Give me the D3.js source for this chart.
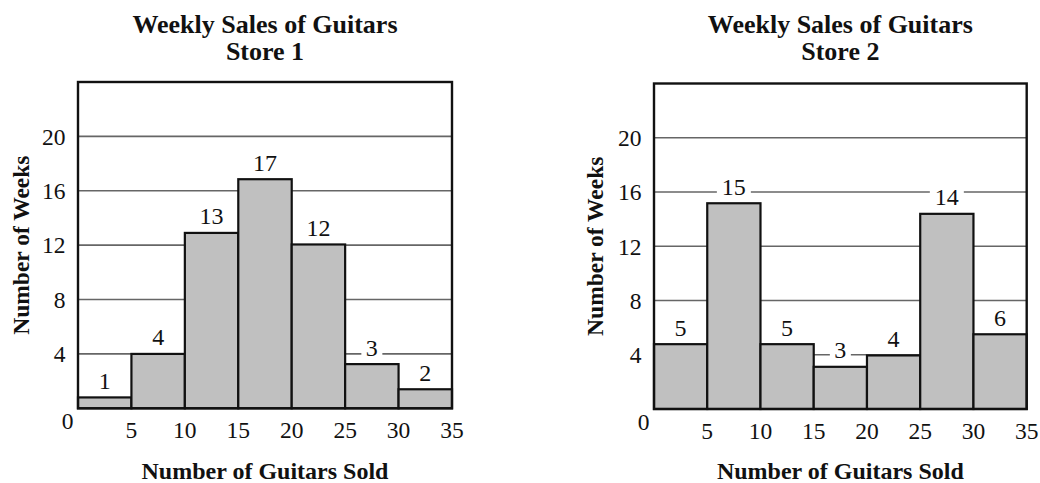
<!DOCTYPE html>
<html><head><meta charset="utf-8">
<script src="https://cdn.jsdelivr.net/npm/d3@7"></script>
<style>body{margin:0;background:#fff}svg{display:block}</style>
</head><body>
<svg id="c" width="1040" height="483" font-family="'Liberation Serif', 'Times New Roman', Times, serif"></svg>
<script>
const binEdges = [0,5,10,15,20,25,30,35];
const xTickLabels = ["5","10","15","20","25","30","35"];
const yTickValues = [4,8,12,16,20];
const store1Counts = [1,4,13,17,12,3,2];
const store1Heights = [0.8,4.0,12.9,16.85,12.05,3.25,1.4];
const store2Counts = [5,15,5,3,4,14,6];
const store2Heights = [4.78,15.17,4.78,3.11,3.95,14.39,5.51];
const titles = [["Weekly Sales of Guitars","Store 1"],["Weekly Sales of Guitars","Store 2"]];
const xTitle = "Number of Guitars Sold";
const yTitle = "Number of Weeks";

const svg = d3.select("#c");
const FONT = "'Liberation Serif', 'Times New Roman', Times, serif";
const panels = [
  {L:78, R:452, B:408.3, T:82, counts:store1Counts, heights:store1Heights, title:titles[0], yT:29},
  {L:654, R:1026.7, B:409, T:83.5, counts:store2Counts, heights:store2Heights, title:titles[1], yT:603}
];
panels.forEach(p=>{
  const g = svg.append("g").attr("font-family",FONT).attr("fill","#111");
  const x = d3.scaleLinear().domain([0,35]).range([p.L,p.R]);
  const y = d3.scaleLinear().domain([0,24]).range([p.B,p.T]);
  g.selectAll("line.grid").data(yTickValues).join("line")
    .attr("x1",p.L).attr("x2",p.R).attr("y1",d=>y(d)).attr("y2",d=>y(d))
    .attr("stroke","#666").attr("stroke-width",1.6);
  const bins = p.counts.map((c,i)=>({c, h:p.heights[i], x0:binEdges[i], x1:binEdges[i+1]}));
  const lab = g.selectAll("g.lab").data(bins).join("g");
  lab.append("rect")
    .attr("x",d=>(x(d.x0)+x(d.x1))/2 - (String(d.c).length*6.5+4))
    .attr("width",d=>String(d.c).length*13+8)
    .attr("y",d=>y(d.h)-26).attr("height",20).attr("fill","#fff");
  lab.append("text").attr("x",d=>(x(d.x0)+x(d.x1))/2).attr("y",d=>y(d.h)-8.5)
    .attr("text-anchor","middle").attr("font-size",24).text(d=>d.c);
  g.selectAll("rect.bar").data(bins).join("rect").attr("class","bar")
    .attr("x",d=>x(d.x0)).attr("width",d=>x(d.x1)-x(d.x0))
    .attr("y",d=>y(d.h)).attr("height",d=>y(0)-y(d.h))
    .attr("fill","#c0c0c0").attr("stroke","#111").attr("stroke-width",2.2);
  g.append("rect").attr("x",p.L).attr("y",p.T).attr("width",p.R-p.L).attr("height",p.B-p.T)
    .attr("fill","none").attr("stroke","#111").attr("stroke-width",2.4);
  g.selectAll("text.yt").data(yTickValues).join("text")
    .attr("x",p.L-12.5).attr("y",d=>y(d)+8.3).attr("text-anchor","end").attr("font-size",23.5).text(d=>d);
  g.append("text").attr("x",p.L-10.5).attr("y",p.B+21).attr("text-anchor","middle").attr("font-size",23.5).text("0");
  g.selectAll("text.xt").data(xTickLabels).join("text")
    .attr("x",d=>x(+d)).attr("y",p.B+30).attr("text-anchor","middle").attr("font-size",23.5).text(d=>d);
  const cx = (p.L+p.R)/2;
  g.append("text").attr("x",cx).attr("y",32.7).attr("text-anchor","middle").attr("font-size",26).attr("font-weight","bold").text(p.title[0]);
  g.append("text").attr("x",cx).attr("y",60).attr("text-anchor","middle").attr("font-size",26).attr("font-weight","bold").text(p.title[1]);
  g.append("text").attr("x",cx).attr("y",479).attr("text-anchor","middle").attr("font-size",24).attr("font-weight","bold").text(xTitle);
  g.append("text").attr("transform",`translate(${p.yT},${(p.T+p.B)/2}) rotate(-90)`).attr("text-anchor","middle").attr("font-size",23.5).attr("font-weight","bold").text(yTitle);
});
</script>
</body></html>
